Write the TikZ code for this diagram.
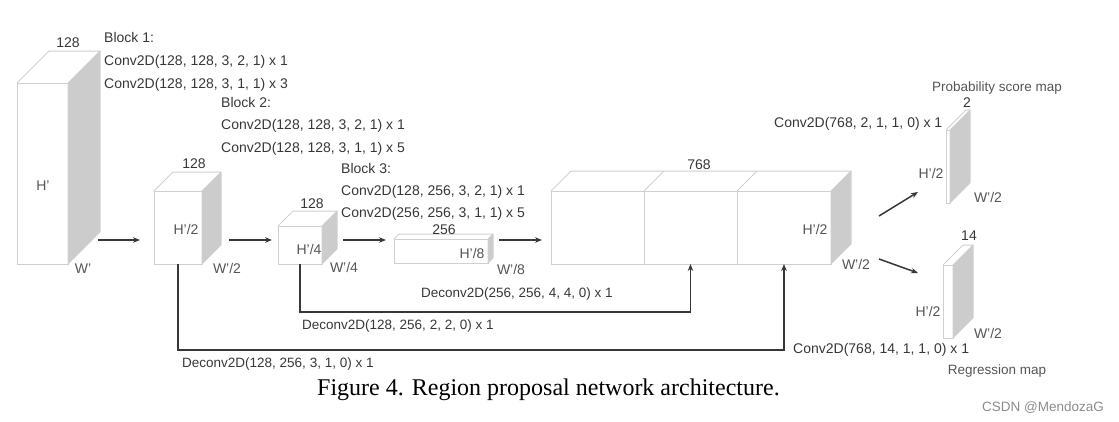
\documentclass[tikz,border=0pt]{standalone}
\usepackage{fontspec}
\setmainfont{Liberation Sans}
\newfontfamily\capfont{Liberation Serif}
\usetikzlibrary{arrows.meta,positioning}
\definecolor{rimgray}{RGB}{208,208,208}
\definecolor{sidegray}{RGB}{204,204,204}
\definecolor{txtdark}{RGB}{55,55,55}
\definecolor{txtmid}{RGB}{85,85,85}
\definecolor{arrgray}{RGB}{55,55,55}

\newcommand{\featbox}[6]{%
	\node[face, minimum width=#4, minimum height=#5] (#1) at (#2,#3) {};
	\filldraw[sideface] (#1.north east) -- ++(#6,-#6) -- ++(0,#5) -- (#1.south east) -- cycle;
	\draw[rim] (#1.north west) -- ++(#6,-#6) -- ++(#4,0);
}

\begin{document}
\begin{tikzpicture}
			[x=1pt, y=-1pt,
			face/.style={draw=rimgray, fill=white, line width=1pt, inner sep=0pt, outer sep=0pt, anchor=north west},
			sideface/.style={fill=sidegray, draw=rimgray, line width=1pt, line join=round},
			rim/.style={draw=rimgray, line width=1pt},
			lbl/.style={text=txtdark, font=\fontsize{14}{16}\selectfont, anchor=base, inner sep=0pt},
			dimlbl/.style={lbl, text=txtmid},
			op/.style={lbl, anchor=base west},
			skip/.style={op, font=\fontsize{13.5}{16}\selectfont},
			arr/.style={draw=arrgray, line width=1.5pt, -{Stealth[length=7pt,width=5.5pt]}}]
			\useasboundingbox (0,0) rectangle (1119,421);
			
			\featbox{b1}{17}{83}{51}{181}{32}
			\featbox{b2}{154}{191}{48}{73}{19}
			\featbox{b3}{278}{226}{44}{38}{15}
			\featbox{b4}{394}{239}{94}{24}{5}
			
			\node[face, minimum width=93, minimum height=73] (c1) at (551,191) {};
			\node[face, minimum width=93, minimum height=73, right=0pt of c1] (c2) {};
			\node[face, minimum width=94, minimum height=73, right=0pt of c2] (c3) {};
			\filldraw[sideface] (c3.north east) -- ++(20,-20) -- ++(0,73) -- (c3.south east) -- cycle;
			\draw[rim] (c1.north west) -- ++(20,-20) -- ++(280,0);
			\draw[rim] (c2.north west) -- ++(20,-20);
			\draw[rim] (c3.north west) -- ++(20,-20);
			
			\featbox{pm}{946}{130}{4}{73}{20}
			\featbox{rm}{943}{265}{10}{73}{20}
			
			\node[lbl] (d1) at (68,47) {128};
			\node[dimlbl] (h1) at (43,190) {H'};
			\node[dimlbl] (w1) at (83,273) {W'};
			\node[lbl] (d2) at (194,168) {128};
			\node[dimlbl] (h2) at (186,234) {H'/2};
			\node[dimlbl] (w2) at (227,273) {W'/2};
			\node[lbl] (d3) at (312,208) {128};
			\node[dimlbl] (h3) at (309,254) {H'/4};
			\node[dimlbl] (w3) at (344,272) {W'/4};
			\node[lbl] (d4) at (444,234) {256};
			\node[dimlbl] (h4) at (472,258) {H'/8};
			\node[dimlbl] (w4) at (511,274) {W'/8};
			\node[lbl] (dc) at (699,169) {768};
			\node[dimlbl] (hc) at (815,234) {H'/2};
			\node[dimlbl] (wc) at (856,269) {W'/2};
			
			\node[dimlbl, font=\fontsize{13.5}{16}\selectfont] (pt) at (997,91) {Probability score map};
			\node[lbl] (dp) at (967,107) {2};
			\node[dimlbl] (hp) at (931,178) {H'/2};
			\node[dimlbl] (wp) at (988,202) {W'/2};
			\node[lbl] (dr) at (969,240) {14};
			\node[dimlbl] (hr) at (928,316) {H'/2};
			\node[dimlbl] (wr) at (988,338) {W'/2};
			\node[dimlbl, font=\fontsize{13.5}{16}\selectfont] (rt) at (997,374) {Regression map};
			
			\node[op] (k1) at (104,42) {Block 1:};
			\node[op] (k1a) at (104,65) {Conv2D(128, 128, 3, 2, 1) x 1};
			\node[op] (k1b) at (104,88) {Conv2D(128, 128, 3, 1, 1) x 3};
			\node[op] (k2) at (221,107) {Block 2:};
			\node[op] (k2a) at (221,129) {Conv2D(128, 128, 3, 2, 1) x 1};
			\node[op] (k2b) at (221,152) {Conv2D(128, 128, 3, 1, 1) x 5};
			\node[op] (k3) at (341,173) {Block 3:};
			\node[op] (k3a) at (341,195) {Conv2D(128, 256, 3, 2, 1) x 1};
			\node[op] (k3b) at (341,217) {Conv2D(256, 256, 3, 1, 1) x 5};
			\node[op] (kp) at (774,127) {Conv2D(768, 2, 1, 1, 0) x 1};
			\node[op] (kr) at (793,353) {Conv2D(768, 14, 1, 1, 0) x 1};
			\node[skip] (u1) at (421,297) {Deconv2D(256, 256, 4, 4, 0) x 1};
			\node[skip] (u2) at (302,329) {Deconv2D(128, 256, 2, 2, 0) x 1};
			\node[skip] (u3) at (182,367) {Deconv2D(128, 256, 3, 1, 0) x 1};
			
			\draw[arr] ([shift={(30,-24)}]b1.south east) -- ++(42,0);
			\draw[arr] ([shift={(27,-24)}]b2.south east) -- ++(43,0);
			\draw[arr] ([shift={(21,-24)}]b3.south east) -- ++(43,0);
			\draw[arr] ([shift={(11,-23)}]b4.south east) -- ++(43,0);
			\draw[arr] (b3.south) -- ++(0,48) -| (c2.south);
			\draw[arr] (b2.south) -- ++(0,86) -| (c3.south);
			\draw[arr] ([shift={(48,-48)}]c3.south east) -- ++(39,-24);
			\draw[arr] ([shift={(48,-5)}]c3.south east) -- ++(39,14);
			
			\node[anchor=base west, inner sep=0pt, font=\capfont\fontsize{24}{28}\selectfont] (cap) at (317,395) {Figure 4. Region proposal network architecture.};
			\node[anchor=base west, inner sep=0pt, text=black!45, font=\fontsize{13.5}{16}\selectfont] (wm) at (982,411) {CSDN @MendozaG};
		\end{tikzpicture}
\end{document}
